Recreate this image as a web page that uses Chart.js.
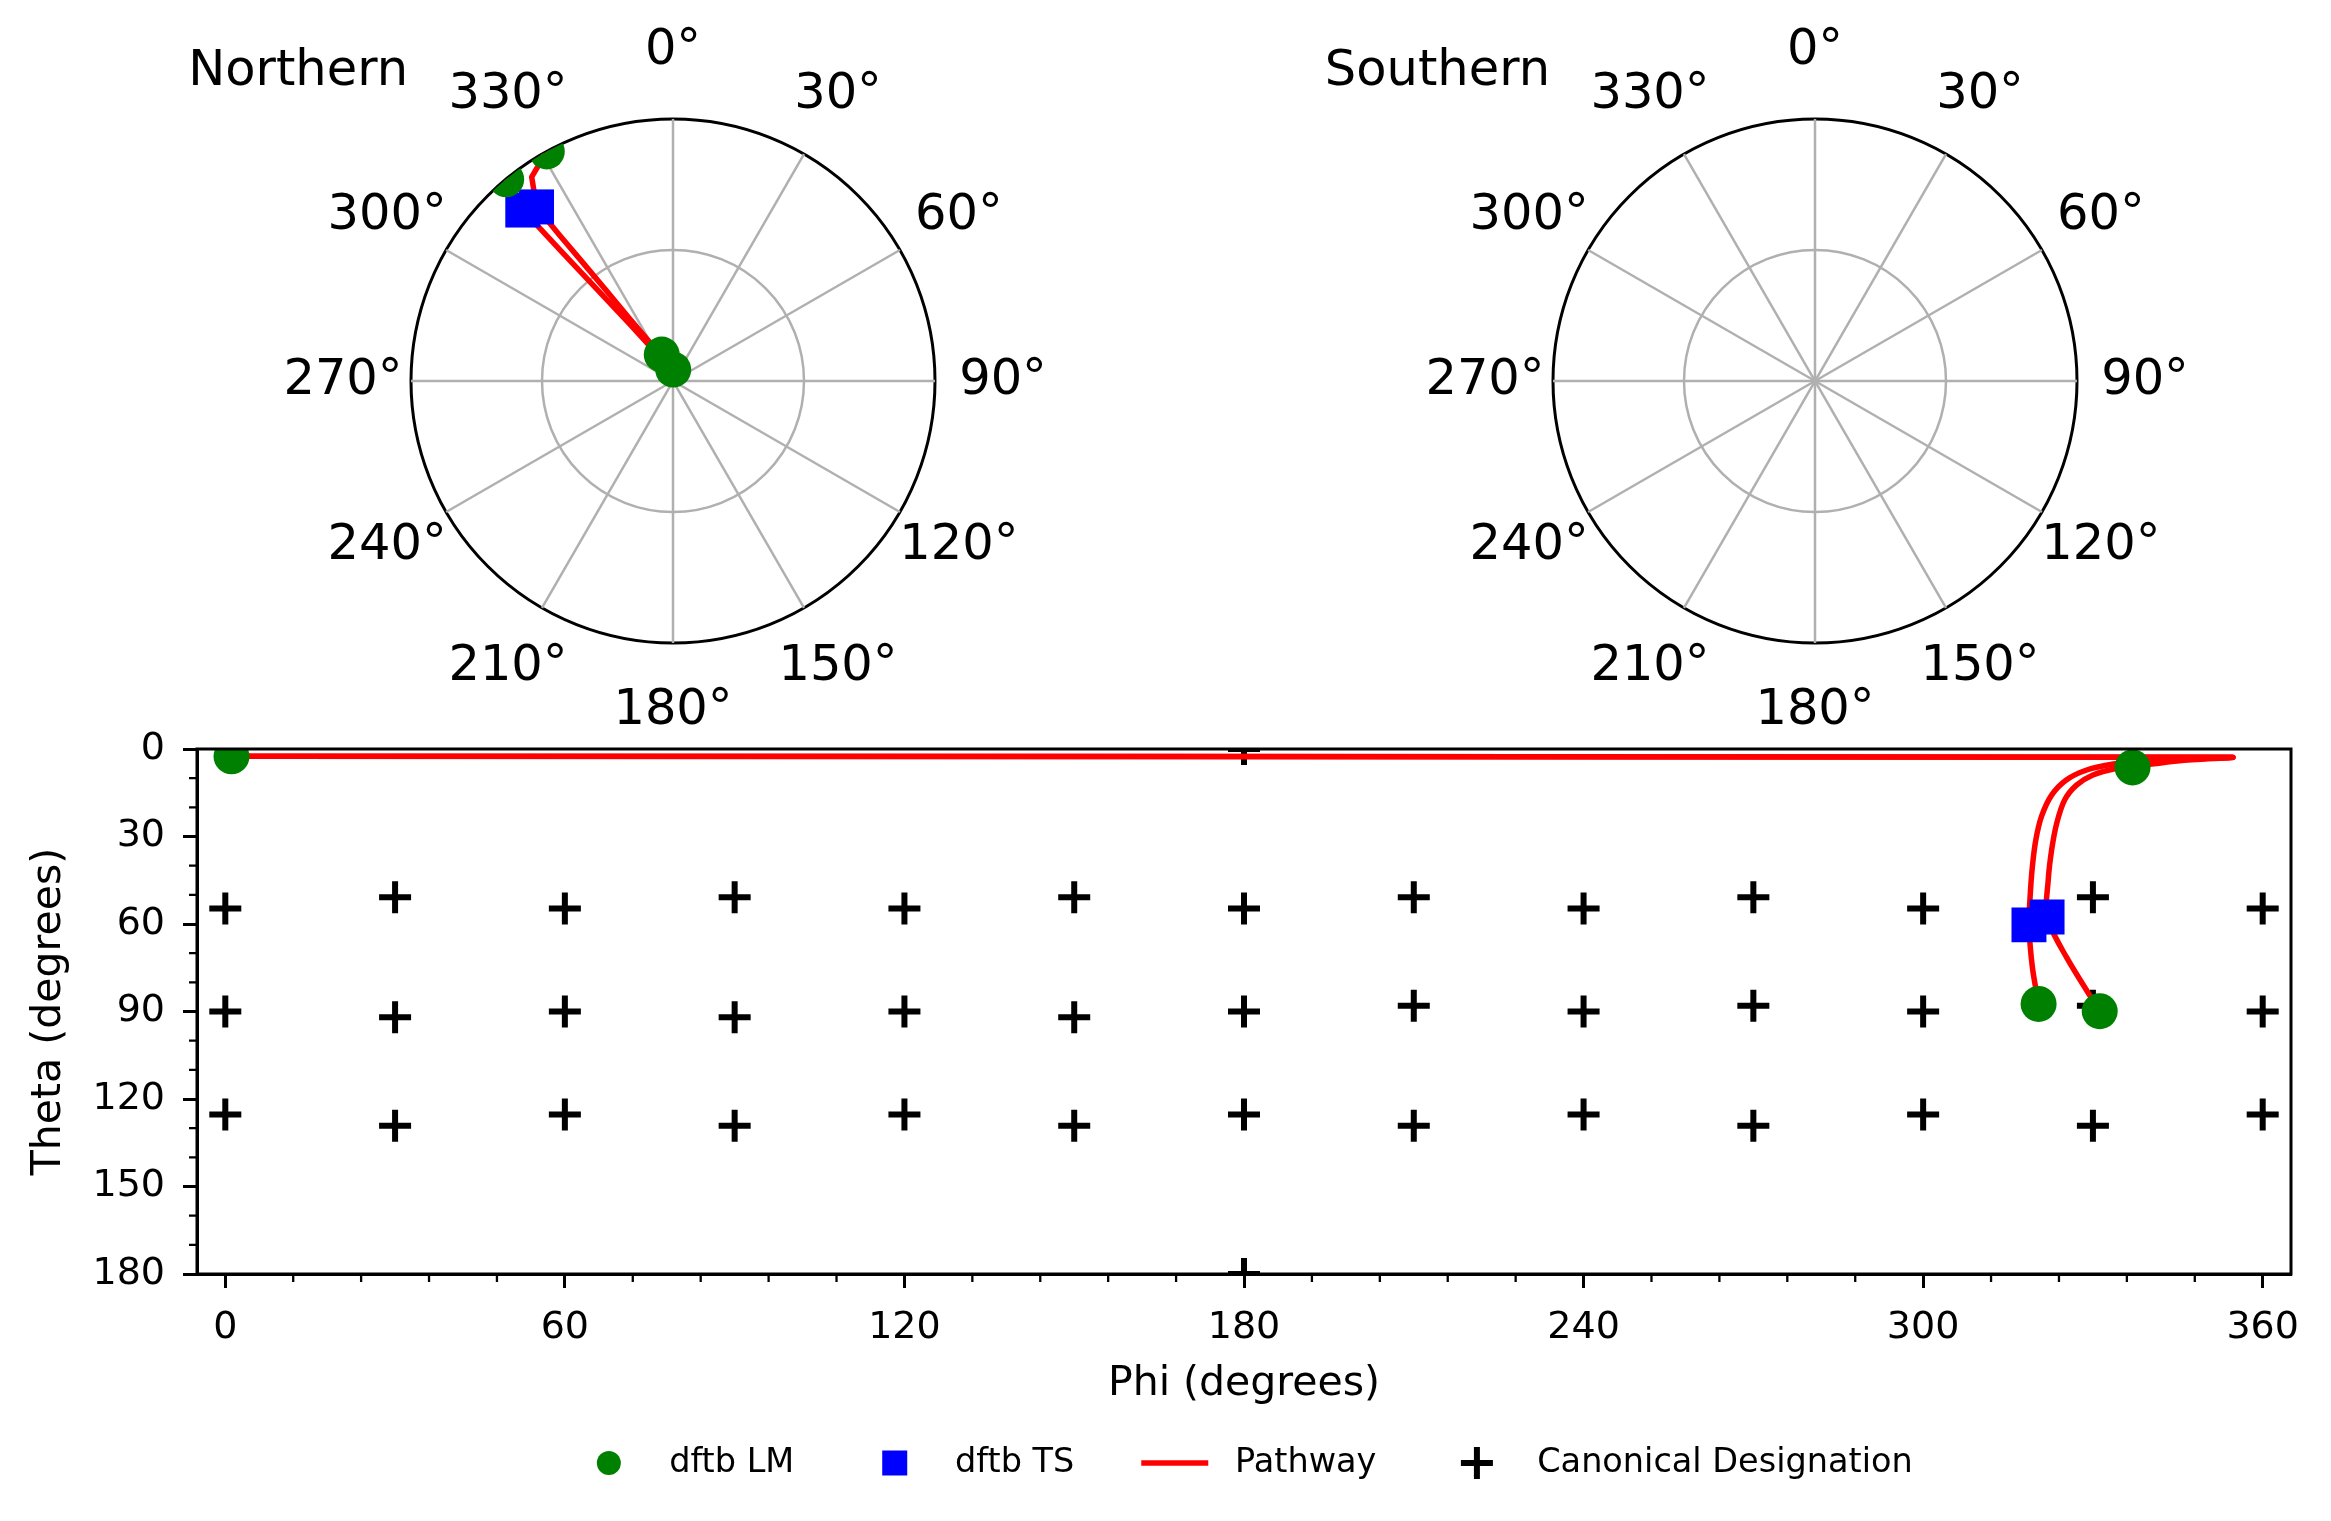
<!DOCTYPE html>
<html>
<head>
<meta charset="utf-8">
<script src="https://cdn.jsdelivr.net/npm/chart.js@4.4.0/dist/chart.umd.min.js"></script>
<style>
  html, body { margin: 0; padding: 0; background: #fff; }
  body { width: 2331px; height: 1521px; position: relative; overflow: hidden; }
  canvas { position: absolute; }
  #northChart { left: 0; top: 0; }
  #southChart { left: 1165px; top: 0; }
  #mainChart { left: 0; top: 700px; }
</style>
</head>
<body>
<canvas id="northChart" width="1165" height="745"></canvas>
<canvas id="southChart" width="1166" height="745"></canvas>
<canvas id="mainChart" width="2331" height="821"></canvas>
<script>
// 극좌표 각도 라벨
const angleLabels = ['0°', '30°', '60°', '90°', '120°', '150°', '180°', '210°', '240°', '270°', '300°', '330°'];
// 아래 그래프 눈금
const phiTicks = [0, 60, 120, 180, 240, 300, 360];
const thetaTicks = [0, 30, 60, 90, 120, 150, 180];

// dftb LM (phi, theta)
const lmPhi = [1.1, 337.0, 320.4, 331.2];
const lmTheta = [2.5, 6.3, 87.4, 89.9];

// dftb TS
const tsPhi = [318.7, 321.9];
const tsTheta = [60.3, 57.6];

// 경로 2개
const pathAPhi = [1.1, 354.3, 345.0, 337.0, 333.6, 328.9, 325.3, 322.7, 320.9, 319.9, 319.3, 318.9, 318.7, 319.3, 320.4];
const pathATheta = [2.5, 2.85, 3.6, 4.6, 5.15, 7.2, 10.6, 15.8, 23.2, 31.3, 40.4, 50.7, 60.3, 74.8, 87.4];
const pathBPhi = [1.1, 354.3, 345.3, 337.0, 334.2, 330.0, 327.1, 325.0, 323.6, 322.7, 322.1, 321.9, 325.3, 331.2];
const pathBTheta = [2.5, 2.85, 4.0, 6.0, 6.6, 8.9, 12.4, 17.5, 25.5, 34.7, 45.0, 57.6, 71.3, 89.9];

// canonical designation
const canonPhi = [
    180,
    0, 30, 60, 90, 120, 150, 180, 210, 240, 270, 300, 330, 360,
    0, 30, 60, 90, 120, 150, 180, 210, 240, 270, 300, 330, 360,
    0, 30, 60, 90, 120, 150, 180, 210, 240, 270, 300, 330, 360,
    180
];
const canonTheta = [
    0,
    54.7, 50.8, 54.7, 50.8, 54.7, 50.8, 54.7, 50.8, 54.7, 50.8, 54.7, 50.8, 54.7,
    90, 92, 90, 92, 90, 92, 90, 88, 90, 88, 90, 88, 90,
    125.3, 129.2, 125.3, 129.2, 125.3, 129.2, 125.3, 129.2, 125.3, 129.2, 125.3, 129.2, 125.3,
    180
];

const FONT = 'DejaVu Sans';
const DEG = Math.PI / 180;
const toXY = (xs, ys) => xs.map((x, i) => ({ x: x, y: ys[i] }));

// 극좌표 위에 점/선/라벨 그리기 (r = sin(theta))
const polarDecor = {
    id: 'polarDecor',
    afterDraw: (chart, args, opts) => {
        const r = chart.scales.r;
        const ctx = chart.ctx;
        const keep = opts.hemisphere === 'north' ? (t => t <= 90) : (t => t > 90);
        const pos = (phi, theta) => r.getPointPositionForValue(phi / 30, Math.sin(theta * DEG));

        ctx.save();
        ctx.beginPath();
        ctx.arc(r.xCenter, r.yCenter, r.drawingArea, 0, 2 * Math.PI);
        ctx.clip();

        ctx.strokeStyle = '#ff0000';
        ctx.lineWidth = 5.5;
        ctx.lineJoin = 'round';
        ctx.lineCap = 'round';
        [[pathAPhi, pathATheta], [pathBPhi, pathBTheta]].forEach(([ps, ts]) => {
            ctx.beginPath();
            let started = false;
            ps.forEach((p, i) => {
                if (!keep(ts[i])) { started = false; return; }
                const pt = pos(p, ts[i]);
                if (!started) { ctx.moveTo(pt.x, pt.y); started = true; }
                else ctx.lineTo(pt.x, pt.y);
            });
            ctx.stroke();
        });

        ctx.fillStyle = '#0000ff';
        tsPhi.forEach((p, i) => {
            if (!keep(tsTheta[i])) return;
            const pt = pos(p, tsTheta[i]);
            ctx.fillRect(pt.x - 17.5, pt.y - 17.5, 35, 35);
        });

        ctx.fillStyle = '#008000';
        lmPhi.forEach((p, i) => {
            if (!keep(lmTheta[i])) return;
            const pt = pos(p, lmTheta[i]);
            ctx.beginPath();
            ctx.arc(pt.x, pt.y, 18, 0, 2 * Math.PI);
            ctx.fill();
        });
        ctx.restore();

        // 각도 라벨 + 제목
        ctx.save();
        ctx.font = '49.5px "' + FONT + '"';
        ctx.fillStyle = '#000';
        ctx.textAlign = 'center';
        ctx.textBaseline = 'middle';
        angleLabels.forEach((lab, i) => {
            const pt = r.getPointPosition(i, r.drawingArea + 68);
            ctx.fillText(lab, pt.x, pt.y);
        });
        ctx.textAlign = 'right';
        ctx.textBaseline = 'alphabetic';
        ctx.fillText(opts.title, r.xCenter - r.drawingArea - 3, 85);
        ctx.restore();
    }
};

const polar_chart = (id, title, hemisphere, padLeft, padRight) => {
    const ctx = document.getElementById(id);
    if (!ctx) return;
    new Chart(ctx, {
        type: 'radar',
        data: { labels: angleLabels, datasets: [] },
        options: {
            responsive: false,
            animation: false,
            events: [],
            layout: { padding: { left: padLeft, right: padRight, top: 119, bottom: 102 } },
            plugins: {
                legend: { display: false },
                tooltip: { enabled: false },
                polarDecor: { title: title, hemisphere: hemisphere }
            },
            scales: {
                r: {
                    min: 0,
                    max: 1,
                    ticks: { display: false, stepSize: 0.5 },
                    pointLabels: { display: false },
                    grid: {
                        circular: true,
                        color: c => c.tick && c.tick.value === 1 ? '#000' : '#b0b0b0',
                        lineWidth: c => c.tick && c.tick.value === 1 ? 3 : 2.5
                    },
                    angleLines: { color: '#b0b0b0', lineWidth: 2.5 }
                }
            }
        },
        plugins: [polarDecor]
    });
};

// 아래 그래프: 테두리, 보조 눈금, 범례
const mainDecor = {
    id: 'mainDecor',
    afterDraw: (chart) => {
        const { ctx, chartArea } = chart;
        const xs = chart.scales.x;
        const ys = chart.scales.y;
        ctx.save();
        ctx.strokeStyle = '#000';
        ctx.lineWidth = 3;
        ctx.strokeRect(chartArea.left, chartArea.top, chartArea.right - chartArea.left, chartArea.bottom - chartArea.top);

        // 보조 눈금
        ctx.lineWidth = 2.3;
        ctx.beginPath();
        for (let v = 0; v <= 360; v += 12) {
            if (v % 60 === 0) continue;
            const px = xs.getPixelForValue(v);
            ctx.moveTo(px, chartArea.bottom);
            ctx.lineTo(px, chartArea.bottom + 8);
        }
        for (let v = 0; v <= 180; v += 10) {
            if (v % 30 === 0) continue;
            const py = ys.getPixelForValue(v);
            ctx.moveTo(chartArea.left, py);
            ctx.lineTo(chartArea.left - 8, py);
        }
        ctx.stroke();

        // 범례
        const fs = 33.5;
        ctx.font = fs + 'px "' + FONT + '"';
        ctx.textBaseline = 'middle';
        ctx.textAlign = 'left';
        const items = [];
        chart.data.datasets.forEach(ds => {
            if (!items.find(it => it.label === ds.label)) items.push(ds);
        });
        const handle = 2 * fs, pad = 0.8 * fs, gap = 2 * fs;
        let total = 0;
        items.forEach((it, i) => {
            total += handle + pad + ctx.measureText(it.label).width + (i ? gap : 0);
        });
        let x = (chartArea.left + chartArea.right) / 2 - total / 2;
        const y = 763;
        items.forEach(it => {
            const cx = x + handle / 2;
            if (it.showLine) {
                ctx.strokeStyle = it.borderColor;
                ctx.lineWidth = 5.5;
                ctx.beginPath();
                ctx.moveTo(x, y);
                ctx.lineTo(x + handle, y);
                ctx.stroke();
            } else if (it.pointStyle === 'circle') {
                ctx.fillStyle = it.backgroundColor;
                ctx.beginPath();
                ctx.arc(cx, y, 12, 0, 2 * Math.PI);
                ctx.fill();
            } else if (it.pointStyle === 'rect') {
                ctx.fillStyle = it.backgroundColor;
                ctx.fillRect(cx - 12.5, y - 12.5, 25, 25);
            } else {
                ctx.strokeStyle = it.borderColor;
                ctx.lineWidth = 6;
                ctx.beginPath();
                ctx.moveTo(cx - 16, y);
                ctx.lineTo(cx + 16, y);
                ctx.moveTo(cx, y - 16);
                ctx.lineTo(cx, y + 16);
                ctx.stroke();
            }
            ctx.fillStyle = '#000';
            ctx.fillText(it.label, x + handle + pad, y);
            x += handle + pad + ctx.measureText(it.label).width + gap;
        });
        ctx.restore();
    }
};

const main_chart = () => {
    const ctx = document.getElementById('mainChart');
    if (!ctx) return;
    const tickFont = { family: FONT, size: 38 };
    const titleFont = { family: FONT, size: 41 };
    new Chart(ctx, {
        type: 'scatter',
        data: {
            datasets: [
                {
                    label: 'dftb LM',
                    data: toXY(lmPhi, lmTheta),
                    pointStyle: 'circle',
                    pointRadius: 18,
                    backgroundColor: '#008000',
                    borderWidth: 0,
                    clip: 0
                },
                {
                    label: 'dftb TS',
                    data: toXY(tsPhi, tsTheta),
                    pointStyle: 'rect',
                    pointRadius: 24.7,
                    backgroundColor: '#0000ff',
                    borderWidth: 0,
                    clip: 0
                },
                {
                    label: 'Pathway',
                    data: toXY(pathAPhi, pathATheta),
                    showLine: true,
                    borderColor: '#ff0000',
                    borderWidth: 5.5,
                    borderCapStyle: 'round',
                    borderJoinStyle: 'round',
                    tension: 0.3,
                    pointRadius: 0,
                    clip: 0
                },
                {
                    label: 'Pathway',
                    data: toXY(pathBPhi, pathBTheta),
                    showLine: true,
                    borderColor: '#ff0000',
                    borderWidth: 5.5,
                    borderCapStyle: 'round',
                    borderJoinStyle: 'round',
                    tension: 0.3,
                    pointRadius: 0,
                    clip: 0
                },
                {
                    label: 'Canonical Designation',
                    data: toXY(canonPhi, canonTheta),
                    pointStyle: 'cross',
                    pointRadius: 16,
                    borderColor: '#000',
                    backgroundColor: '#000',
                    borderWidth: 6,
                    clip: 0
                }
            ]
        },
        options: {
            responsive: false,
            animation: false,
            events: [],
            layout: { padding: { left: 0, right: 40, top: 49, bottom: 107 } },
            plugins: {
                legend: { display: false },
                tooltip: { enabled: false }
            },
            scales: {
                x: {
                    type: 'linear',
                    min: -5,
                    max: 365,
                    afterBuildTicks: s => { s.ticks = phiTicks.map(v => ({ value: v })); },
                    afterFit: s => { s.height = 140; },
                    ticks: { font: tickFont, color: '#000', padding: 17, maxRotation: 0, autoSkip: false },
                    grid: { drawOnChartArea: false, tickLength: 14, tickWidth: 3, tickColor: '#000' },
                    border: { color: '#000', width: 3 },
                    title: { display: true, text: 'Phi (degrees)', font: titleFont, color: '#000', padding: { top: 0, bottom: 5.5 } }
                },
                y: {
                    type: 'linear',
                    min: 0,
                    max: 180,
                    reverse: true,
                    afterBuildTicks: s => { s.ticks = thetaTicks.map(v => ({ value: v })); },
                    afterFit: s => { s.width = 197; },
                    ticks: { font: tickFont, color: '#000', padding: 18, autoSkip: false },
                    grid: { drawOnChartArea: false, tickLength: 14, tickWidth: 3, tickColor: '#000' },
                    border: { color: '#000', width: 3 },
                    title: { display: true, text: 'Theta (degrees)', font: titleFont, color: '#000', padding: { top: 25, bottom: 0 } }
                }
            }
        },
        plugins: [mainDecor]
    });
};

document.addEventListener('DOMContentLoaded', () => {
    polar_chart('northChart', 'Northern', 'north', 411, 230);
    polar_chart('southChart', 'Southern', 'south', 388, 254);
    main_chart();
});
</script>
</body>
</html>
